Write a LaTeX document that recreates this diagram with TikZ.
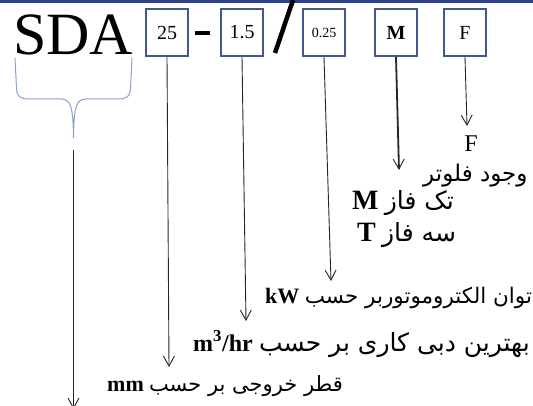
\documentclass[tikz,border=0pt]{standalone}
\usepackage{fontspec}
\setmainfont{Liberation Serif}
\newfontfamily\farsi[Script=Arabic]{DejaVu Sans}
\TeXXeTstate=1
\usetikzlibrary{arrows.meta}

\definecolor{topblue}{RGB}{44,64,140}
\definecolor{boxblue}{RGB}{64,88,142}
\definecolor{braceblue}{RGB}{140,162,204}

\tikzset{
  codebox/.style={draw=boxblue,line width=2pt,minimum width=42pt,minimum height=47pt,
    inner sep=0pt,font=\fontsize{20}{20}\selectfont},
  pointer/.style={draw=black!85,line width=0.9pt,-{Straight Barb[length=10pt,width=11pt,line width=0.9pt]}},
  label/.style={anchor=west,inner sep=0pt,font=\fontsize{23}{23}\selectfont}
}

\begin{document}
\begin{tikzpicture}[x=1pt,y=-1pt]
   \useasboundingbox (0,0) rectangle (533,406);
   \fill[topblue] (0,0) rectangle (533,3);
   \node[anchor=base west,inner sep=0pt,font=\fontsize{60}{60}\selectfont] (sda) at (13,55) {SDA};
   \node[codebox] (b25) at (167,32.5) {25};
   \fill (195,31) rectangle (210,35.5);
   \node[codebox] (b15) at (242,32.5) {1.5};
   \draw[line width=4.5pt] (275,53) -- (293,0);
   \node[codebox,font=\fontsize{14}{14}\selectfont] (b025) at (324,32.5) {0.25};
   \node[codebox,font=\bfseries\fontsize{20}{20}\selectfont] (bm) at (396,32.5) {M};
   \node[codebox] (bf) at (465,32.5) {F};
   % brace under SDA
   \draw[braceblue,line width=1pt] (15,58) -- (16.5,88) .. controls (17,97) and (20,99) .. (30,99)
      -- (60,99) .. controls (71,99) and (73,106) .. (73.5,138)
      .. controls (74,106) and (76,99) .. (87,99) -- (117,99)
      .. controls (127,99) and (130,97) .. (130.5,88) -- (132,58);
   \coordinate (sdatop) at (73.5,150);
   \coordinate (sdatip) at (73.5,409);
   \draw[pointer] (sdatop) -- (sdatip);
   % pointers
   \coordinate (t25) at (169,367);
   \coordinate (t15) at (246,321);
   \coordinate (t025) at (331,281);
   \coordinate (tm) at (399,170);
   \coordinate (tf) at (467,126);
   \draw[pointer] (b25.south) -- (t25);
   \draw[pointer] (b15.south) -- (t15);
   \draw[pointer] (b025.south) -- (t025);
   \draw[pointer,line width=1.8pt] (bm.south) -- (tm);
   \draw[pointer] (bf.south) -- (tf);
   % meanings
   \node[font=\fontsize{24}{24}\selectfont,inner sep=0pt] (lf) at (471,144) {F};
   \node[label] (lfloat) at (423,176) {\farsi\beginR وجود فلوتر\endR};
   \node[label,font=\fontsize{25}{25}\selectfont] (lmono) at (352,203) {\textbf{\fontsize{28}{28}\selectfont M} {\farsi\beginR تک فاز\endR}};
   \node[label,font=\fontsize{25}{25}\selectfont] (ltri) at (357,235) {\textbf{\fontsize{28}{28}\selectfont T} {\farsi\beginR سه فاز\endR}};
   \node[label,font=\fontsize{21.5}{21.5}\selectfont] (lpower) at (265,298) {\textbf{\fontsize{22}{22}\selectfont kW} {\farsi\beginR توان الکتروموتوربر حسب\endR}};
   \node[label,font=\fontsize{25}{25}\selectfont] (lflow) at (193,344) {\textbf{\fontsize{24}{24}\selectfont m\textsuperscript{3}/hr} {\farsi\beginR بهترین دبی کاری بر حسب\endR}};
   \node[label,font=\fontsize{21}{21}\selectfont] (ldiam) at (107,386) {\textbf{\fontsize{22}{22}\selectfont mm} {\farsi\beginR قطر خروجی بر حسب\endR}};
\end{tikzpicture}
\end{document}
